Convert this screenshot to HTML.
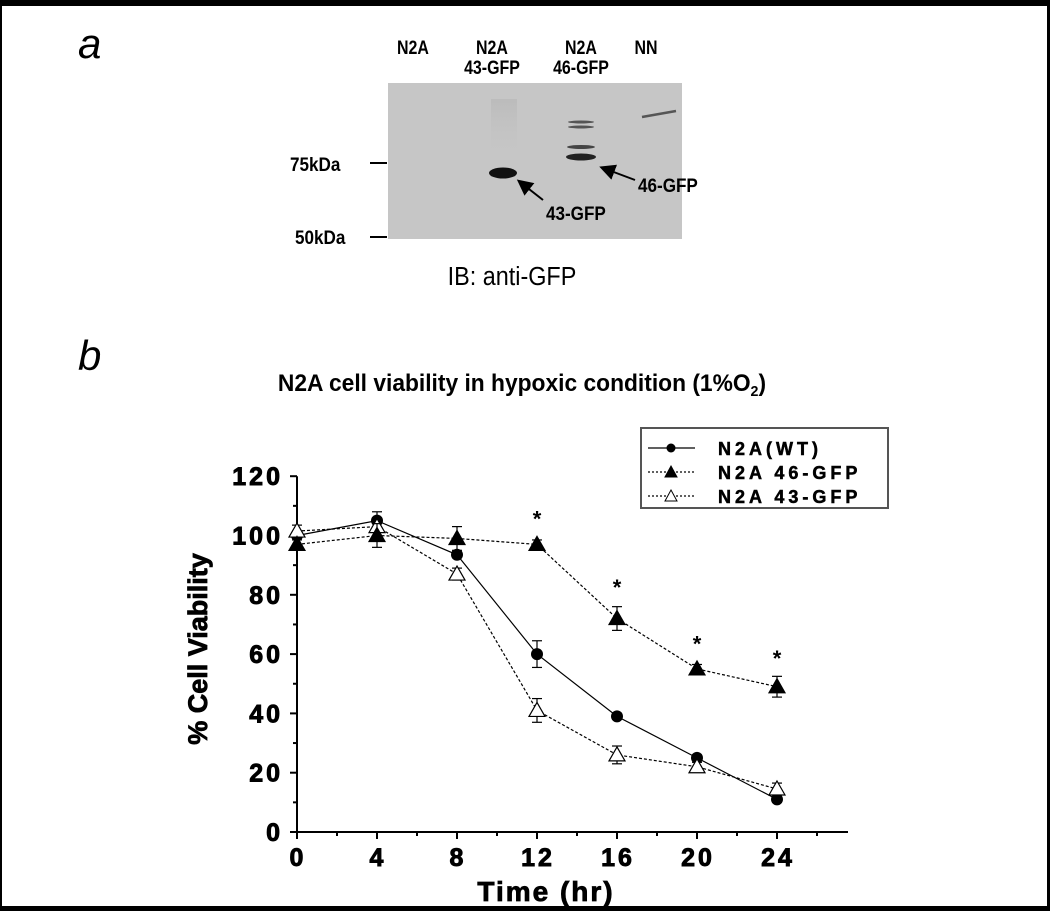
<!DOCTYPE html>
<html><head><meta charset="utf-8"><style>
html,body{margin:0;padding:0;background:#fff}
body{width:1050px;height:911px;position:relative;overflow:hidden;font-family:"Liberation Sans",sans-serif}
svg{position:absolute;left:0;top:0}
</style></head><body>
<svg width="1050" height="911" viewBox="0 0 1050 911">
<defs>
<linearGradient id="smear" x1="0" y1="0" x2="0" y2="1"><stop offset="0" stop-color="#b4b4b4" stop-opacity="0.6"/><stop offset="1" stop-color="#c4c4c4" stop-opacity="0"/></linearGradient>
<marker id="ah" markerWidth="8" markerHeight="8" refX="6" refY="4" orient="auto"><path d="M0,0 L8,4 L0,8 Z" fill="#000"/></marker>
</defs>
<rect x="0" y="0" width="1050" height="911" fill="#fff"/>
<g>
<rect x="0" y="0" width="1050" height="6" fill="#000"/>
<rect x="0" y="0" width="2" height="911" fill="#000"/>
<rect x="1047" y="0" width="3" height="911" fill="#000"/>
<rect x="0" y="906" width="1050" height="5" fill="#000"/>
</g>
<text x="78" y="58" font-size="42" font-style="italic">a</text>
<text x="78" y="370" font-size="42" font-style="italic">b</text>

<g font-weight="bold" font-size="19">
<text x="413" y="54" text-anchor="middle" transform="translate(413,0) scale(0.84,1) translate(-413,0)">N2A</text>
<text x="492" y="54" text-anchor="middle" transform="translate(492,0) scale(0.84,1) translate(-492,0)">N2A</text>
<text x="492" y="74" text-anchor="middle" transform="translate(492,0) scale(0.84,1) translate(-492,0)">43-GFP</text>
<text x="581" y="54" text-anchor="middle" transform="translate(581,0) scale(0.84,1) translate(-581,0)">N2A</text>
<text x="581" y="74" text-anchor="middle" transform="translate(581,0) scale(0.84,1) translate(-581,0)">46-GFP</text>
<text x="646" y="54" text-anchor="middle" transform="translate(646,0) scale(0.84,1) translate(-646,0)">NN</text>
<rect x="388" y="83" width="294" height="156" fill="#c6c6c6"/>
<rect x="491" y="99" width="26" height="60" fill="url(#smear)"/>
<ellipse cx="503" cy="173" rx="14" ry="5.5" fill="#111"/>
<ellipse cx="581" cy="157" rx="15" ry="3.5" fill="#222"/>
<ellipse cx="581" cy="147" rx="14" ry="2" fill="#444"/>
<ellipse cx="581" cy="127" rx="13" ry="1.5" fill="#555"/>
<ellipse cx="581" cy="122" rx="13" ry="1.5" fill="#555"/>
<line x1="642" y1="117" x2="676" y2="111" stroke="#555" stroke-width="2.5"/>
<line x1="370" y1="163" x2="387" y2="163" stroke="#000" stroke-width="2"/>
<line x1="370" y1="237" x2="387" y2="237" stroke="#000" stroke-width="2"/>
<text x="290" y="171" transform="translate(290,0) scale(0.9,1) translate(-290,0)">75kDa</text>
<text x="295" y="244" transform="translate(295,0) scale(0.9,1) translate(-295,0)">50kDa</text>
<line x1="543" y1="200" x2="520" y2="182" stroke="#000" stroke-width="2" marker-end="url(#ah)"/>
<line x1="635" y1="180" x2="603" y2="168" stroke="#000" stroke-width="2" marker-end="url(#ah)"/>
<text x="546" y="220" transform="translate(546,0) scale(0.9,1) translate(-546,0)">43-GFP</text>
<text x="638" y="192" transform="translate(638,0) scale(0.9,1) translate(-638,0)">46-GFP</text>
<text x="512" y="285" font-size="26" text-anchor="middle" font-weight="normal" transform="translate(512,0) scale(0.9,1) translate(-512,0)">IB: anti-GFP</text>
</g>

<text x="522" y="391" font-size="24" font-weight="bold" text-anchor="middle" transform="translate(522,0) scale(0.95,1) translate(-522,0)">N2A cell viability in hypoxic condition (1%O<tspan font-size="15" dy="5">2</tspan><tspan dy="-5">)</tspan></text>

<g id="chart"></g>
</svg>
<script>
const times = [0, 4, 8, 12, 16, 20, 24];
const wtValues = [100, 105, 93.5, 60, 39, 25, 11];
const wtErrors = [1.5, 3, 1, 4.5, 1, 1, 1];
const gfp46Values = [97, 100, 99, 97, 72, 55, 49];
const gfp46Errors = [2, 4, 4, 1.5, 4, 1.5, 3.5];
const gfp43Values = [101.5, 103, 87, 41, 26, 22, 14.5];
const gfp43Errors = [2, 3, 2, 4, 3, 1.5, 2];
const starTimes = [12, 16, 20, 24];
const starValues = [107, 84, 65, 60];
const xTicks = [0, 4, 8, 12, 16, 20, 24];
const yTicks = [0, 20, 40, 60, 80, 100, 120];

const NS = 'http://www.w3.org/2000/svg';
const g = document.getElementById('chart');
const X = t => 297 + t * 20;
const Y = v => 832 - v * 2.965;
function mk(tag, attrs, parent) {
  const e = document.createElementNS(NS, tag);
  for (const k in attrs) e.setAttribute(k, attrs[k]);
  (parent || g).appendChild(e);
  return e;
}
let ax = mk('line', {x1: X(0), y1: Y(0), x2: 848, y2: Y(0), stroke: '#000', 'stroke-width': 2});


let ay = mk('line', {x1: X(0), y1: Y(0), x2: X(0), y2: Y(120), stroke: '#000', 'stroke-width': 2});


for (let t = 0; t <= 26; t += 2) {
  mk('line', {x1: X(t), y1: Y(0), x2: X(t), y2: Y(0) + (t % 4 === 0 ? 7 : 4), stroke: '#000', 'stroke-width': 2});
}
for (let v = 0; v <= 120; v += 10) {
  mk('line', {x1: X(0), y1: Y(v), x2: X(0) - (v % 20 === 0 ? 7 : 4), y2: Y(v), stroke: '#000', 'stroke-width': 2});
}
xTicks.forEach(t => {
  const tx = mk('text', {x: X(t) + 1, y: 866, 'text-anchor': 'middle', 'font-size': 25, 'font-weight': 'bold', 'letter-spacing': 3, stroke: '#000', 'stroke-width': 0.9});
  tx.textContent = t;
  
  
});
yTicks.forEach(v => {
  const tx = mk('text', {x: X(0) - 14, y: Y(v) + 9, 'text-anchor': 'end', 'font-size': 25, 'font-weight': 'bold', 'letter-spacing': 3, stroke: '#000', 'stroke-width': 0.9});
  tx.textContent = v;
  
  
});
const xt = mk('text', {x: 546, y: 901, 'text-anchor': 'middle', 'font-size': 28, 'font-weight': 'bold', 'letter-spacing': 2, stroke: '#000', 'stroke-width': 0.8});
xt.textContent = 'Time (hr)';


const yt = mk('text', {x: 0, y: 0, 'text-anchor': 'middle', 'font-size': 27, 'font-weight': 'bold', stroke: '#000', 'stroke-width': 0.8, transform: 'translate(207,649) rotate(-90)'});
yt.textContent = '% Cell Viability';



function series(name, vals, errs, dash, marker) {
  const sg = mk('g', {});
  
  
  const pts = times.map((t, i) => X(t) + ',' + Y(vals[i])).join(' ');
  mk('polyline', {points: pts, fill: 'none', stroke: '#000', 'stroke-width': 1.2, 'stroke-dasharray': dash}, sg);
  times.forEach((t, i) => {
    const x = X(t), y = Y(vals[i]), e = errs[i] * 2.965;
    mk('line', {x1: x, y1: y - e, x2: x, y2: y + e, stroke: '#000', 'stroke-width': 1.2}, sg);
    mk('line', {x1: x - 5, y1: y - e, x2: x + 5, y2: y - e, stroke: '#000', 'stroke-width': 1.2}, sg);
    mk('line', {x1: x - 5, y1: y + e, x2: x + 5, y2: y + e, stroke: '#000', 'stroke-width': 1.2}, sg);
    let m;
    if (marker === 'circle') m = mk('circle', {cx: x, cy: y, r: 6, fill: '#000'}, sg);
    else m = mk('path', {d: `M${x},${y - 8} L${x + 8},${y + 6} L${x - 8},${y + 6} Z`, fill: marker === 'tri' ? '#000' : '#fff', stroke: '#000', 'stroke-width': 1.2}, sg);
    
    
  });
}
series('series-n2a-wt', wtValues, wtErrors, 'none', 'circle');
series('series-n2a-43gfp', gfp43Values, gfp43Errors, '3,2', 'otri');
series('series-n2a-46gfp', gfp46Values, gfp46Errors, '3,2', 'tri');
starTimes.forEach((t, i) => {
  const s = mk('text', {x: X(t), y: Y(starValues[i]) + 12, 'text-anchor': 'middle', 'font-size': 22, 'font-weight': 'bold'});
  s.textContent = '*';
  
  
});
const lg = mk('g', {});


mk('rect', {x: 641, y: 428, width: 247, height: 80, fill: '#fff', stroke: '#555', 'stroke-width': 2}, lg);
const labels = ['N2A(WT)', 'N2A 46-GFP', 'N2A 43-GFP'];
const kinds = ['circle', 'tri', 'otri'];
labels.forEach((lab, i) => {
  const y = 448 + i * 24;
  const e = mk('g', {}, lg);
  
  
  mk('line', {x1: 648, y1: y, x2: 695, y2: y, stroke: '#000', 'stroke-width': 1.2, 'stroke-dasharray': i === 0 ? 'none' : '2,2'}, e);
  if (kinds[i] === 'circle') mk('circle', {cx: 671, cy: y, r: 4.5, fill: '#000'}, e);
  else mk('path', {d: `M671,${y - 6} L677,${y + 5} L665,${y + 5} Z`, fill: kinds[i] === 'tri' ? '#000' : '#fff', stroke: '#000', 'stroke-width': 1}, e);
  const t = mk('text', {x: 718, y: y + 7, 'font-size': 18, 'font-weight': 'bold', 'letter-spacing': 4, stroke: '#000', 'stroke-width': 0.5}, e);
  t.textContent = lab;
});
</script>
</body></html>
